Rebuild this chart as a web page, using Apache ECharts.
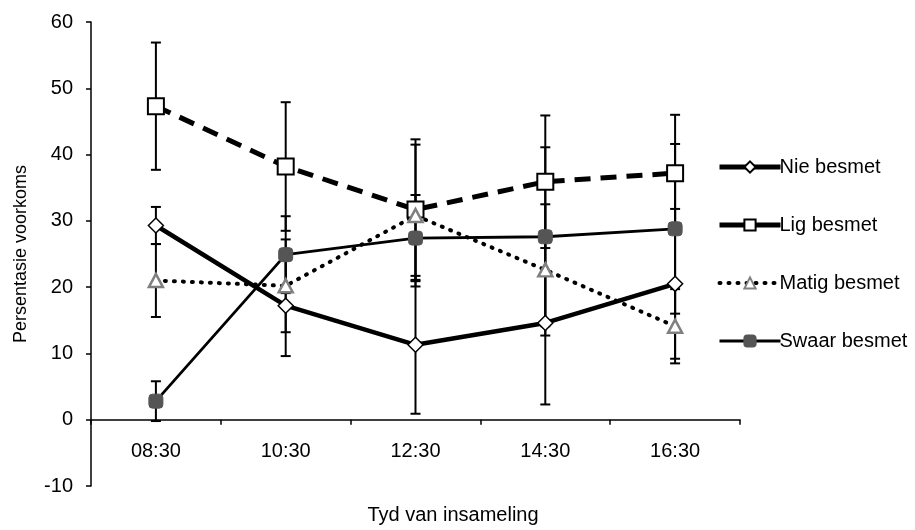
<!DOCTYPE html>
<html>
<head>
<meta charset="utf-8">
<script src="https://cdn.jsdelivr.net/npm/echarts@6/dist/echarts.min.js"></script>
<style>
  html, body { margin: 0; padding: 0; background: #fff; }
  #chart { width: 915px; height: 530px; }
</style>
</head>
<body>
<div id="chart"></div>
<script>
// Categories (collection time)
const times = ['08:30', '10:30', '12:30', '14:30', '16:30'];

// Series means (percentage occurrence)
const nieBesmet = [29.3, 17.2, 11.3, 14.6, 20.5];
const ligBesmet = [47.3, 38.2, 31.7, 35.9, 37.2];
const matigBesmet = [21.0, 20.2, 30.8, 22.6, 14.1];
const swaarBesmet = [2.8, 24.9, 27.4, 27.6, 28.8];

// Error bar half-widths (+/-)
const nieErr = [2.8, 7.6, 10.4, 12.3, 11.3];
const ligErr = [9.6, 9.7, 10.6, 10.0, 8.8];
const matigErr = [5.5, 7.0, 10.7, 9.9, 5.6];
const swaarErr = [3.0, 5.8, 6.5, 13.5, 12.8];

const FONT = 'Liberation Sans, Arial, sans-serif';

/**
 * Build [index, low, high] rows for the error-bar custom series
 */
function errRows(values, errs) {
  return values.map((v, i) => [i, v - errs[i], v + errs[i]]);
}

function renderErrorBar(params, api) {
  const low = api.coord([api.value(0), api.value(1)]);
  const high = api.coord([api.value(0), api.value(2)]);
  const capHalf = 5;
  const style = { stroke: '#000', lineWidth: 2 };
  return {
    type: 'group',
    children: [
      { type: 'line', shape: { x1: low[0], y1: low[1], x2: high[0], y2: high[1] }, style },
      { type: 'line', shape: { x1: low[0] - capHalf, y1: low[1], x2: low[0] + capHalf, y2: low[1] }, style },
      { type: 'line', shape: { x1: high[0] - capHalf, y1: high[1], x2: high[0] + capHalf, y2: high[1] }, style }
    ]
  };
}

function errorSeries(id, values, errs) {
  return {
    type: 'custom',
    id: id,
    renderItem: renderErrorBar,
    data: errRows(values, errs),
    encode: { x: 0, y: [1, 2] },
    z: 1,
    silent: true
  };
}

const chart = echarts.init(document.getElementById('chart'));

chart.setOption({
  animation: false,
  textStyle: { fontFamily: FONT, color: '#000' },
  grid: { left: 91, right: 175, top: 22, bottom: 44, containLabel: false, outerBoundsMode: 'none' },
  legend: {
    data: [
      { name: 'Nie besmet', lineStyle: { width: 5 } },
      { name: 'Lig besmet', lineStyle: { width: 5, type: 'solid' } },
      { name: 'Matig besmet', lineStyle: { width: 4 } },
      { name: 'Swaar besmet', lineStyle: { width: 3 } }
    ],
    orient: 'vertical',
    left: 712,
    top: 152,
    itemWidth: 61,
    itemHeight: 14,
    itemGap: 38,
    textStyle: { fontFamily: FONT, fontSize: 20, color: '#000', padding: [0, 0, 0, -6] }
  },
  xAxis: {
    type: 'category',
    data: times,
    name: 'Tyd van insameling',
    nameLocation: 'middle',
    nameGap: 19,
    nameMoveOverlap: false,
    nameTextStyle: { fontSize: 20, color: '#000', padding: [0, 0, 0, 75] },
    axisLine: { onZero: true, lineStyle: { color: '#000', width: 1.5 } },
    axisTick: { show: true, length: 5, lineStyle: { color: '#000', width: 1.5 } },
    axisLabel: { fontSize: 20, color: '#000', margin: -45 },
    splitLine: { show: false }
  },
  yAxis: {
    type: 'value',
    min: -10,
    max: 60,
    interval: 10,
    name: 'Persentasie voorkoms',
    nameLocation: 'middle',
    nameGap: 61,
    nameRotate: 90,
    nameTextStyle: { fontSize: 18, color: '#000' },
    axisLine: { show: true, lineStyle: { color: '#000', width: 1.5 } },
    axisTick: { show: true, length: 5, lineStyle: { color: '#000', width: 1.5 } },
    axisLabel: { fontSize: 20, color: '#000', margin: 18 },
    splitLine: { show: false }
  },
  series: [
    errorSeries('errNie', nieBesmet, nieErr),
    errorSeries('errLig', ligBesmet, ligErr),
    errorSeries('errMatig', matigBesmet, matigErr),
    errorSeries('errSwaar', swaarBesmet, swaarErr),
    {
      name: 'Nie besmet',
      type: 'line',
      data: nieBesmet,
      symbol: 'diamond',
      symbolSize: [15, 15],
      lineStyle: { color: '#000', width: 4.5 },
      itemStyle: { color: '#fff', borderColor: '#000', borderWidth: 1.5 },
      z: 3
    },
    {
      name: 'Lig besmet',
      type: 'line',
      data: ligBesmet,
      symbol: 'rect',
      symbolSize: 16,
      lineStyle: { color: '#000', width: 5, type: [16, 10] },
      itemStyle: { color: '#fff', borderColor: '#000', borderWidth: 2 },
      z: 3
    },
    {
      name: 'Matig besmet',
      type: 'line',
      data: matigBesmet,
      symbol: 'triangle',
      symbolSize: [14, 13],
      lineStyle: { color: '#000', width: 4, type: [1, 8], cap: 'round' },
      itemStyle: { color: '#fff', borderColor: '#808080', borderWidth: 2.5 },
      z: 3
    },
    {
      name: 'Swaar besmet',
      type: 'line',
      data: swaarBesmet,
      symbol: 'roundRect',
      symbolSize: 14,
      lineStyle: { color: '#000', width: 2.8 },
      itemStyle: { color: '#555', borderColor: '#555', borderWidth: 1 },
      z: 3
    }
  ]
});
</script>
</body>
</html>
